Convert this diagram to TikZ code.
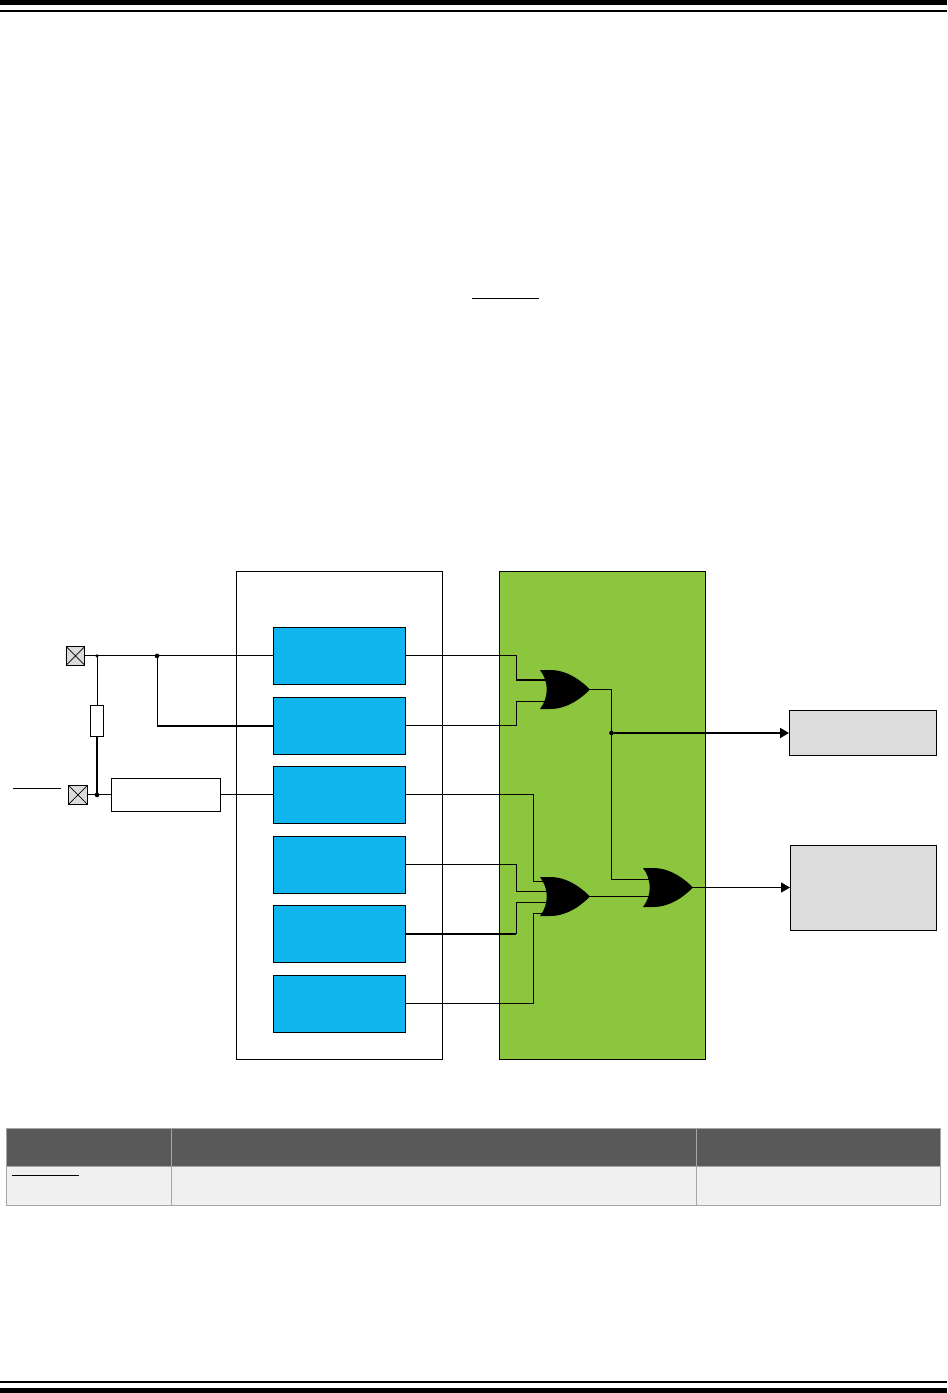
\documentclass[tikz,border=0pt]{standalone}
\usetikzlibrary{arrows.meta}
\definecolor{leafgreen}{HTML}{8CC63F}
\definecolor{chipblue}{HTML}{10B5EE}
\definecolor{panelgray}{HTML}{DCDCDC}
\definecolor{headgray}{HTML}{595959}
\definecolor{rowgray}{HTML}{F0F0F0}
\definecolor{gridgray}{HTML}{A6A6A6}
\tikzset{
  x=0.75pt,y=-0.75pt,
  wire/.style={line width=0.75pt,line cap=rect},
  thickwire/.style={line width=1.5pt,line cap=butt},
  tip/.style={-{Triangle[length=6.75pt,width=7.5pt]}},
  plainbox/.style={draw=black,line width=0.75pt,inner sep=0pt,outer sep=0pt,anchor=north west},
  block/.style={plainbox,fill=chipblue,minimum width=99pt,minimum height=42.75pt},
  panel/.style={plainbox,fill=panelgray},
  pad/.style={draw=black,line width=0.75pt,fill=panelgray,inner sep=0pt,outer sep=0pt,minimum size=14pt,
    path picture={\draw[line width=0.6pt] (path picture bounding box.north west)--(path picture bounding box.south east)
      (path picture bounding box.north east)--(path picture bounding box.south west);}},
  dot/.style={circle,fill=black,inner sep=0pt,outer sep=0pt,minimum size=#1},
  cell/.style={draw=gridgray,line width=0.75pt,inner sep=0pt,outer sep=0pt,anchor=north west},
  bar/.style={fill=black,draw=none,inner sep=0pt,outer sep=0pt,anchor=north west,minimum width=710.25pt},
  pics/orgate/.style={code={
    \fill[black] (0,-19.5) -- (10,-19.5) .. controls (28,-19.5) and (42,-8) .. (50,0)
      .. controls (42,8) and (28,19.5) .. (10,19.5) -- (0,19.5)
      .. controls (9,8) and (9,-8) .. (0,-19.5) -- cycle;
    \coordinate (-out) at (50,0);
    \foreach \pinname/\pinoff in {#1}{\coordinate (-\pinname) at (7,\pinoff);}
  }}
}
\begin{document}
\begin{tikzpicture}
\useasboundingbox (0,0) rectangle (947,1393);
% page rules
\node[bar,minimum height=3.75pt] (topa) at (0,0) {};
\node[bar,minimum height=1.5pt] (topb) at (0,10) {};
\node[bar,minimum height=1.5pt] (bota) at (0,1381) {};
\node[bar,minimum height=3.75pt] (botb) at (0,1388) {};
% overline in text
\coordinate (ola) at (472,298); \coordinate (olb) at (539,298);
\draw[line width=0.75pt] (ola) -- (olb);
% big panels
\node[plainbox,fill=white,minimum width=154.5pt,minimum height=366pt] (outer) at (236,571) {};
\node[plainbox,fill=leafgreen,minimum width=154.5pt,minimum height=366pt] (logic) at (499,571) {};
% blocks
\node[block] (b1) at (273,627.4) {};
\node[block] (b2) at (273,697) {};
\node[block] (b3) at (273,766.4) {};
\node[block] (b4) at (273,836) {};
\node[block] (b5) at (273,905.4) {};
\node[block] (b6) at (273,975) {};
% output panels
\node[panel,minimum width=110.25pt,minimum height=33.75pt] (outa) at (789,710) {};
\node[panel,minimum width=109.5pt,minimum height=63.75pt] (outb) at (790,845) {};
% pads and input parts
\node[pad] (pa) at (75.5,655.9) {};
\node[pad] (pb) at (78,794.9) {};
\node[plainbox,fill=white,minimum width=9.75pt,minimum height=23.25pt] (res) at (90.5,705) {};
\node[plainbox,fill=white,minimum width=81.75pt,minimum height=24.75pt] (filt) at (111,778.4) {};
% gates
\pic (g1) at (540,689.5) {orgate={a/-9.5,b/11.5}};
\pic (g2) at (540,896.5) {orgate={a/-15.5,b/-5,c/6,d/17}};
\pic (g3) at (643,887.5) {orgate={a/-8.5,b/9}};
% bus columns
\coordinate (busa) at (516,0);
\coordinate (busb) at (533,0);
\coordinate (busc) at (611.5,0);
% dots
\node[dot=2.5pt] (da) at (97,655.9) {};
\node[dot=3.5pt] (db) at (157,655.9) {};
\node[dot=3.5pt] (dc) at (97,794.9) {};
\node[dot=3.5pt] (dd) at (611.5,733) {};
% input wires
\draw[wire] (pa.east) -- (b1.west);
\draw[wire] (da) -- (res.north -| da);
\draw[thickwire] (res.south -| dc) -- (dc);
\draw[wire] (pb.east) -- (filt.west);
\draw[wire] (filt.east) -- (b3.west);
\draw[wire] (db) -- (db |- b2.west);
\draw[thickwire] (db |- b2.west) -- (b2.west);
% block to gate wires
\draw[wire] (b1.east) -- (b1.east -| busa) -- (g1-a -| busa);
\draw[thickwire] (g1-a -| busa) -- (g1-a);
\draw[wire] (b2.east) -- (b2.east -| busa) |- (g1-b);
\draw[wire] (b3.east) -- (b3.east -| busb) |- (g2-a);
\draw[wire] (b4.east) -- (b4.east -| busa) |- (g2-b);
\draw[thickwire] (b5.east) -- (b5.east -| busa);
\draw[wire] (b5.east -| busa) |- (g2-c);
\draw[wire] (b6.east) -- (b6.east -| busb) |- (g2-d);
% gate outputs
\draw[wire] (g1-out) -| (busc |- g3-a) -- (g3-a);
\draw[wire] (g2-out) -- (g2-out -| g3-b);
\draw[thickwire,tip] (dd) -- (dd -| outa.west);
\draw[wire,tip] (g3-out) -- (g3-out -| outb.west);
% table
\node[cell,fill=headgray,minimum width=123.75pt,minimum height=28.5pt] (h1) at (6,1128) {};
\node[cell,fill=headgray,minimum width=393.75pt,minimum height=28.5pt] (h2) at (171,1128) {};
\node[cell,fill=headgray,minimum width=183.25pt,minimum height=28.5pt] (h3) at (696,1128) {};
\node[cell,fill=rowgray,minimum width=123.75pt,minimum height=29.25pt] (r1) at (6,1166) {};
\node[cell,fill=rowgray,minimum width=393.75pt,minimum height=29.25pt] (r2) at (171,1166) {};
\node[cell,fill=rowgray,minimum width=183.25pt,minimum height=29.25pt] (r3) at (696,1166) {};
\coordinate (olc) at (12,1175); \coordinate (old) at (79,1175);
\draw[line width=0.75pt] (olc) -- (old);
% overline at the lower pad
\coordinate (ole) at (13,788); \coordinate (olf) at (61,788);
\draw[line width=0.75pt] (ole) -- (olf);
\end{tikzpicture}
\end{document}
